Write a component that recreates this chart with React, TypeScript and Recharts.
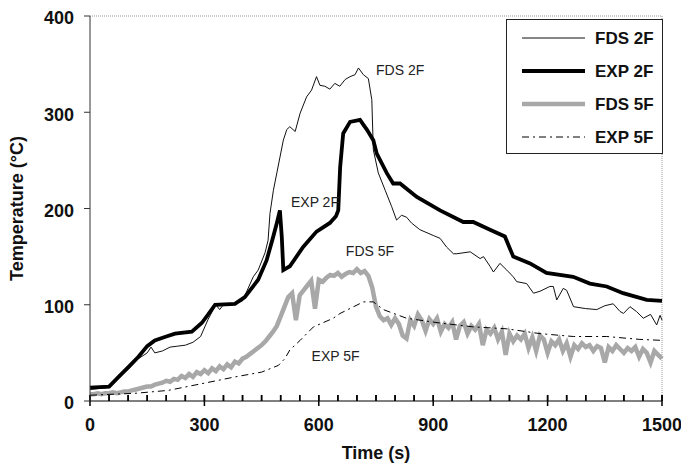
import { LineChart, Line, XAxis, YAxis, ReferenceLine, ReferenceDot, Legend, Label } from "recharts";

const FONT = '"Liberation Sans", Arial, Helvetica, sans-serif';

// FDS 2F (thin black)
const fds2fTime = [0, 50, 70, 80, 100, 127, 150, 160, 170, 190, 210, 230, 250, 270, 290, 310, 330, 340, 350, 380, 400, 428, 441, 459, 467, 472, 481, 490, 507, 516, 524, 538, 551, 568, 581, 594, 603, 616, 629, 642, 655, 669, 682, 695, 704, 717, 730, 739, 743, 756, 774, 791, 804, 817, 830, 843, 865, 900, 918, 935, 953, 962, 997, 1023, 1032, 1049, 1058, 1075, 1093, 1110, 1119, 1145, 1163, 1180, 1206, 1215, 1224, 1241, 1250, 1268, 1300, 1329, 1350, 1372, 1390, 1399, 1416, 1433, 1451, 1470, 1486, 1495, 1500];
const fds2fTemp = [12, 14, 22, 28, 33, 44, 50, 56, 50, 52, 56, 57, 58, 61, 67, 85, 100, 95, 100, 101, 104, 129, 136, 154, 167, 195, 219, 237, 271, 282, 285, 280, 299, 316, 323, 337, 328, 327, 324, 330, 327, 334, 337, 339, 346, 339, 335, 313, 261, 237, 219, 202, 188, 193, 191, 185, 178, 172, 169, 160, 153, 153, 155, 148, 150, 140, 134, 143, 136, 129, 124, 122, 112, 114, 119, 119, 105, 117, 115, 98, 96, 95, 99, 101, 93, 91, 98, 93, 86, 90, 79, 89, 84];

// EXP 2F (thick black)
const exp2fTime = [0, 50, 75, 100, 127, 150, 170, 200, 223, 267, 293, 310, 328, 380, 406, 441, 463, 480, 490, 498, 503, 507, 524, 559, 594, 629, 645, 651, 656, 664, 682, 708, 726, 743, 752, 778, 795, 813, 857, 918, 979, 1005, 1049, 1088, 1110, 1154, 1197, 1267, 1311, 1355, 1398, 1460, 1500];
const exp2fTemp = [14, 15, 25, 35, 46, 57, 63, 67, 70, 72, 81, 90, 100, 101, 108, 126, 146, 170, 185, 198, 170, 136, 140, 160, 176, 185, 192, 198, 243, 278, 290, 292, 282, 271, 257, 237, 226, 226, 212, 198, 186, 186, 178, 171, 150, 143, 133, 129, 122, 119, 112, 105, 104];

// FDS 5F (grey, noisy)
const fds5fTime = [0, 10, 20, 30, 40, 50, 60, 70, 80, 90, 100, 110, 120, 130, 140, 150, 160, 170, 180, 190, 200, 210, 220, 230, 240, 250, 260, 270, 280, 290, 300, 310, 320, 330, 340, 350, 360, 370, 380, 390, 400, 410, 420, 430, 440, 450, 460, 470, 480, 490, 500, 510, 520, 530, 540, 550, 560, 570, 580, 590, 600, 610, 620, 630, 640, 650, 660, 670, 680, 690, 700, 710, 720, 730, 740, 750, 760, 770, 780, 790, 800, 810, 820, 830, 840, 850, 860, 870, 880, 890, 900, 910, 920, 930, 940, 950, 960, 970, 980, 990, 1000, 1010, 1020, 1030, 1040, 1050, 1060, 1070, 1080, 1090, 1100, 1110, 1120, 1130, 1140, 1150, 1160, 1170, 1180, 1190, 1200, 1210, 1220, 1230, 1240, 1250, 1260, 1270, 1280, 1290, 1300, 1310, 1320, 1330, 1340, 1350, 1360, 1370, 1380, 1390, 1400, 1410, 1420, 1430, 1440, 1450, 1460, 1470, 1480, 1490, 1500];
const fds5fTemp = [7, 7, 8, 7, 8, 8, 9, 8, 9, 10, 10, 11, 12, 13, 14, 15, 15, 17, 18, 19, 21, 20, 23, 22, 26, 24, 28, 25, 30, 28, 32, 29, 34, 31, 36, 33, 38, 35, 41, 39, 44, 46, 49, 52, 55, 58, 62, 67, 72, 78, 88, 98, 108, 112, 84, 110, 115, 120, 125, 96, 126, 124, 128, 131, 130, 133, 129, 132, 134, 133, 137, 133, 135, 130, 118, 98, 88, 84, 86, 79, 86, 80, 68, 65, 84, 78, 90, 84, 73, 85, 80, 86, 72, 80, 76, 82, 64, 78, 82, 70, 78, 74, 80, 58, 74, 70, 76, 64, 72, 48, 70, 62, 68, 64, 70, 55, 66, 52, 68, 64, 50, 62, 58, 64, 52, 60, 46, 58, 54, 60, 56, 58, 52, 57, 55, 40, 56, 52, 58, 54, 50, 55, 52, 56, 46, 54, 50, 40, 52, 48, 44];

// EXP 5F (dash-dot)
const exp5fTime = [0, 118, 205, 293, 380, 450, 494, 511, 524, 551, 586, 638, 656, 717, 743, 769, 830, 918, 1005, 1093, 1180, 1268, 1355, 1442, 1500];
const exp5fTemp = [6, 8, 11, 18, 25, 30, 37, 44, 53, 63, 77, 86, 91, 103, 103, 95, 86, 81, 77, 75, 70, 67, 67, 64, 63];

const timeTicks = [0, 50, 100, 150, 200, 250, 300, 350, 400, 450, 500, 550, 600, 650, 700, 750, 800, 850, 900, 950, 1000, 1050, 1100, 1150, 1200, 1250, 1300, 1350, 1400, 1450, 1500];
const tempTicks = [0, 100, 200, 300, 400];

// in-plot labels
const noteText = ["FDS 2F", "EXP 2F", "FDS 5F", "EXP 5F"];
const noteTime = [750, 527, 671, 581];
const noteTemp = [344, 207, 156, 47];

const zip = (t: number[], v: number[]) => t.map((x, i) => ({ t: x, v: v[i] }));

const series = [
  { name: "FDS 2F", data: zip(fds2fTime, fds2fTemp), stroke: "#111", width: 1, dash: undefined as string | undefined },
  { name: "EXP 2F", data: zip(exp2fTime, exp2fTemp), stroke: "#000", width: 3.8, dash: undefined },
  { name: "FDS 5F", data: zip(fds5fTime, fds5fTemp), stroke: "#a8a8a8", width: 4.5, dash: undefined },
  { name: "EXP 5F", data: zip(exp5fTime, exp5fTemp), stroke: "#000", width: 1, dash: "7 4 2 4" },
];
const drawOrder = [2, 3, 0, 1];

const isMajor = (t: number) => t % 300 === 0;

// tick lines point up into the plot (tickSize -6); majors get a stub below the axis and a label
const renderTimeTick = (props: any) => {
  const { x, y, payload } = props;
  if (!isMajor(payload.value)) return <g />;
  return (
    <g>
      <line x1={x} x2={x} y1={y + 6} y2={y + 11} stroke="#000" strokeWidth={1.5} />
      <text x={x} y={y + 36} textAnchor="middle" fontFamily={FONT} fontWeight="bold" fontSize={18} fill="#111">
        {payload.value}
      </text>
    </g>
  );
};

function LegendBox() {
  return (
    <div style={{ width: 157, height: 135, border: "1px solid #222", background: "#fff", boxSizing: "border-box" }}>
      <svg width={155} height={133}>
        {series.map((s, i) => (
          <g key={s.name}>
            <line x1={15} x2={78} y1={18 + i * 33} y2={18 + i * 33} stroke={s.stroke} strokeWidth={s.width} strokeDasharray={s.dash} />
            <text x={88} y={18 + i * 33 + 6} fontFamily={FONT} fontWeight="bold" fontSize={17} fill="#111">
              {s.name}
            </text>
          </g>
        ))}
      </svg>
    </div>
  );
}

export default function App() {
  return (
    <div style={{ position: "absolute", left: 0, top: 0, width: 681, height: 468, background: "#fff" }}>
      <LineChart width={681} height={468} margin={{ top: 16, right: 19, bottom: 0, left: 15 }}>
        <XAxis
          dataKey="t"
          type="number"
          domain={[0, 1500]}
          ticks={timeTicks}
          interval={0}
          tick={renderTimeTick}
          tickLine={{ stroke: "#000", strokeWidth: 1.5 }}
          tickSize={-6}
          tickMargin={0}
          height={67}
          axisLine={{ stroke: "#000" }}
          allowDuplicatedCategory={false}
        >
          <Label value="Time (s)" position="insideBottom" offset={9} style={{ fontFamily: FONT, fontWeight: "bold", fontSize: 18, fill: "#111" }} />
        </XAxis>
        <YAxis
          type="number"
          domain={[0, 400]}
          ticks={tempTicks}
          width={75}
          tickSize={6}
          tickMargin={10}
          axisLine={{ stroke: "#333" }}
          tickLine={{ stroke: "#333" }}
          tick={{ fontFamily: FONT, fontWeight: "bold", fontSize: 18, fill: "#111", dy: 2 }}
        >
          <Label value="Temperature (°C)" angle={-90} position="insideLeft" offset={2} style={{ textAnchor: "middle", fontFamily: FONT, fontWeight: "bold", fontSize: 18, fill: "#111" }} />
        </YAxis>
        <ReferenceLine y={400} stroke="#999" strokeDasharray="1 1" />
        <ReferenceLine x={1500} stroke="#999" strokeDasharray="1 1" />
        {/* extra pass of the inward tick marks through the scales */}
        {timeTicks.map((t) => (
          <ReferenceLine key={`tm-${t}`} segment={[{ x: t, y: 0 }, { x: t, y: 6.2 }]} stroke="#000" strokeWidth={1.5} ifOverflow="visible" />
        ))}
        {drawOrder.map((i) => {
          const s = series[i];
          return (
            <Line
              key={s.name}
              data={s.data}
              dataKey="v"
              name={s.name}
              type="linear"
              stroke={s.stroke}
              strokeWidth={s.width}
              strokeDasharray={s.dash}
              dot={false}
              activeDot={false}
              isAnimationActive={false}
            />
          );
        })}
        {noteText.map((txt, i) => (
          <ReferenceDot
            key={txt}
            x={noteTime[i]}
            y={noteTemp[i]}
            r={0}
            fill="none"
            stroke="none"
            label={{ value: txt, position: "right", offset: 0, fontFamily: FONT, fontSize: 14, fill: "#222" }}
          />
        ))}
        <Legend
          layout="horizontal"
          verticalAlign="middle"
          align="center"
          wrapperStyle={{ left: 506, top: 19, width: 157, height: 135 }}
          content={() => <LegendBox />}
        />
      </LineChart>
    </div>
  );
}
